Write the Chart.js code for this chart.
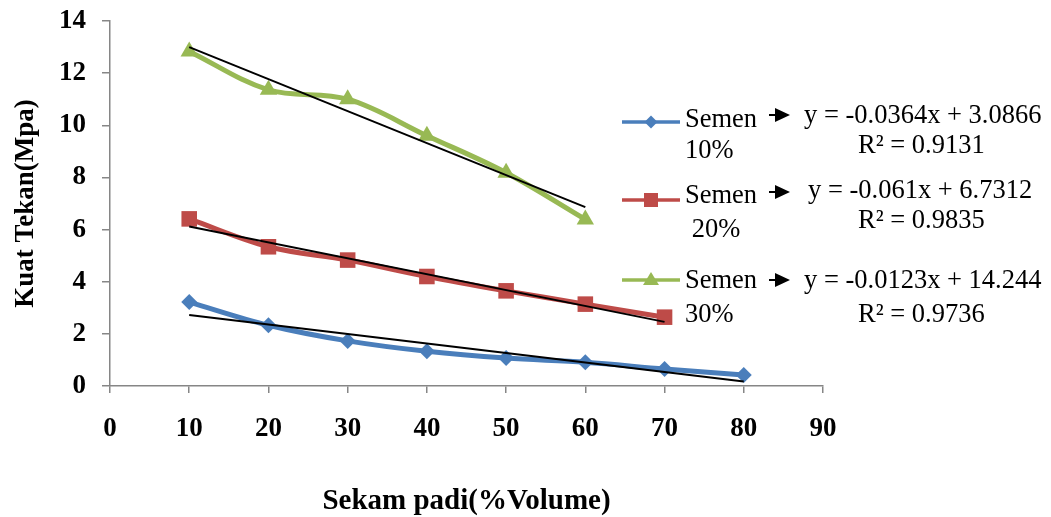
<!DOCTYPE html>
<html>
<head>
<meta charset="utf-8">
<script src="https://cdn.jsdelivr.net/npm/chart.js@4/dist/chart.umd.min.js"></script>
<style>
  html, body { margin: 0; padding: 0; background: #ffffff; }
  #wrap { width: 1051px; height: 517px; position: relative; }
</style>
</head>
<body>
<div id="wrap"><canvas id="chart"></canvas></div>
<script>
// x values (Sekam padi % volume)
const xValues = [10, 20, 30, 40, 50, 60, 70, 80]

// Kuat tekan (MPa)
const semen10 = [3.22, 2.33, 1.73, 1.33, 1.07, 0.91, 0.65, 0.42]
const semen20 = [6.41, 5.34, 4.83, 4.20, 3.65, 3.14, 2.64]
const semen30 = [12.83, 11.36, 11.0, 9.60, 8.18, 6.39]

// linear trendline end points
const trendX10 = [10, 80]
const trendY10 = [2.72, 0.17]
const trendX20 = [10, 70]
const trendY20 = [6.12, 2.46]
const trendX30 = [10, 60]
const trendY30 = [13.0, 6.86]

const seriesNames = ['Semen', 'Semen', 'Semen']
const seriesPct = ['10%', ' 20%', '30%']
const equations = ['y = -0.0364x + 3.0866', 'y = -0.061x + 6.7312', 'y = -0.0123x + 14.244']
const rSquared = ['R\u00b2 = 0.9131', 'R\u00b2 = 0.9835', 'R\u00b2 = 0.9736']

const xTicks = [0, 10, 20, 30, 40, 50, 60, 70, 80, 90]
const yTicks = [0, 2, 4, 6, 8, 10, 12, 14]

const colors = ['#4a7ebb', '#be4b48', '#98b954']
const pointStyles = ['rectRot', 'rect', 'triangle']
const pointRadii = [8, 11, 10]

const toPoints = (xs, ys) => ys.map((y, i) => ({ x: xs[i], y: y }))

const series = [semen10, semen20, semen30]
const trends = [[trendX10, trendY10], [trendX20, trendY20], [trendX30, trendY30]]

const datasets = []
series.forEach((vals, i) => {
    datasets.push({
        label: seriesNames[i] + ' ' + seriesPct[i].trim(),
        data: toPoints(xValues, vals),
        showLine: true,
        borderColor: colors[i],
        backgroundColor: colors[i],
        borderWidth: 5,
        tension: 0.35,
        pointStyle: pointStyles[i],
        pointRadius: pointRadii[i],
        pointBorderWidth: 0,
        pointHoverRadius: pointRadii[i],
        order: 2
    })
})
trends.forEach((t, i) => {
    datasets.push({
        label: 'Linear ' + i,
        data: toPoints(t[0], t[1]),
        showLine: true,
        borderColor: '#000000',
        borderWidth: 2,
        tension: 0,
        pointRadius: 0,
        order: 1
    })
})

const serif = 'Liberation Serif, Times New Roman, serif'
const axisGray = '#868686'

// legend with trendline equations, drawn beside the plot
const legendBoxes = [
    { lineY: 122, nameY: 127, pctY: 158, arrowY: 115, eqX: 804, eqY: 123, rY: 153 },
    { lineY: 200, nameY: 203, pctY: 237, arrowY: 192, eqX: 808, eqY: 198, rY: 228 },
    { lineY: 280, nameY: 288, pctY: 322, arrowY: 280, eqX: 804, eqY: 288, rY: 322 }
]

const sideLegend = {
    id: 'sideLegend',
    afterDraw(chart) {
        const ctx = chart.ctx
        ctx.save()
        legendBoxes.forEach((b, i) => {
            // line sample
            ctx.strokeStyle = colors[i]
            ctx.lineWidth = 3.5
            ctx.beginPath()
            ctx.moveTo(622, b.lineY)
            ctx.lineTo(680, b.lineY)
            ctx.stroke()
            ctx.fillStyle = colors[i]
            const r = 6.5
            ctx.beginPath()
            if (i === 0) {
                ctx.moveTo(651, b.lineY - r)
                ctx.lineTo(651 + r, b.lineY)
                ctx.lineTo(651, b.lineY + r)
                ctx.lineTo(651 - r, b.lineY)
            } else if (i === 1) {
                ctx.rect(651 - 7, b.lineY - 7, 14, 14)
            } else {
                ctx.moveTo(651, b.lineY - 8)
                ctx.lineTo(651 + 8, b.lineY + 5)
                ctx.lineTo(651 - 8, b.lineY + 5)
            }
            ctx.closePath()
            ctx.fill()

            // text
            ctx.fillStyle = '#000000'
            ctx.font = '26.5px ' + serif
            ctx.textAlign = 'left'
            ctx.textBaseline = 'alphabetic'
            ctx.fillText(seriesNames[i], 685, b.nameY)
            ctx.fillText(seriesPct[i], 685, b.pctY)

            // arrow
            ctx.strokeStyle = '#000000'
            ctx.lineWidth = 2
            ctx.beginPath()
            ctx.moveTo(769, b.arrowY)
            ctx.lineTo(778, b.arrowY)
            ctx.stroke()
            ctx.beginPath()
            ctx.moveTo(775, b.arrowY - 7)
            ctx.lineTo(790, b.arrowY)
            ctx.lineTo(775, b.arrowY + 7)
            ctx.closePath()
            ctx.fill()

            ctx.fillText(equations[i], b.eqX, b.eqY)
            ctx.fillText(rSquared[i], 858, b.rY)
        })
        ctx.restore()
    }
}

const ctx = document.getElementById('chart').getContext('2d')
new Chart(ctx, {
    type: 'scatter',
    data: { datasets: datasets },
    plugins: [sideLegend],
    options: {
        responsive: true,
        maintainAspectRatio: false,
        animation: false,
        layout: { padding: { top: 21, right: 228, left: 0, bottom: 0 } },
        plugins: {
            legend: { display: false },
            tooltip: { enabled: false }
        },
        scales: {
            x: {
                type: 'linear',
                min: 0,
                max: 90,
                afterBuildTicks: (scale) => { scale.ticks = xTicks.map(v => ({ value: v })) },
                afterFit: (scale) => {
                    scale.height = 131
                    scale.paddingLeft = 0
                    scale.paddingRight = 0
                },
                ticks: {
                    color: '#000000',
                    padding: 20,
                    maxRotation: 0,
                    font: { family: serif, size: 27, weight: 'bold' }
                },
                grid: { drawOnChartArea: false, drawTicks: true, tickLength: 7, color: axisGray, lineWidth: 1.5 },
                border: { color: axisGray, width: 1.5 },
                title: {
                    display: true,
                    text: 'Sekam padi(%Volume)',
                    color: '#000000',
                    padding: { top: 0, bottom: -2 },
                    font: { family: serif, size: 29, weight: 'bold' }
                }
            },
            y: {
                type: 'linear',
                min: 0,
                max: 14,
                afterBuildTicks: (scale) => { scale.ticks = yTicks.map(v => ({ value: v })) },
                afterFit: (scale) => {
                    scale.width = 110
                    scale.paddingTop = 0
                    scale.paddingBottom = 0
                },
                ticks: {
                    color: '#000000',
                    padding: 16,
                    font: { family: serif, size: 27, weight: 'bold' }
                },
                grid: { drawOnChartArea: false, drawTicks: true, tickLength: 8, color: axisGray, lineWidth: 1.5 },
                border: { color: axisGray, width: 1.5 },
                title: {
                    display: true,
                    text: 'Kuat Tekan(Mpa)',
                    color: '#000000',
                    padding: { top: 10, bottom: 0 },
                    font: { family: serif, size: 27, weight: 'bold' }
                }
            }
        }
    }
})
</script>
</body>
</html>
